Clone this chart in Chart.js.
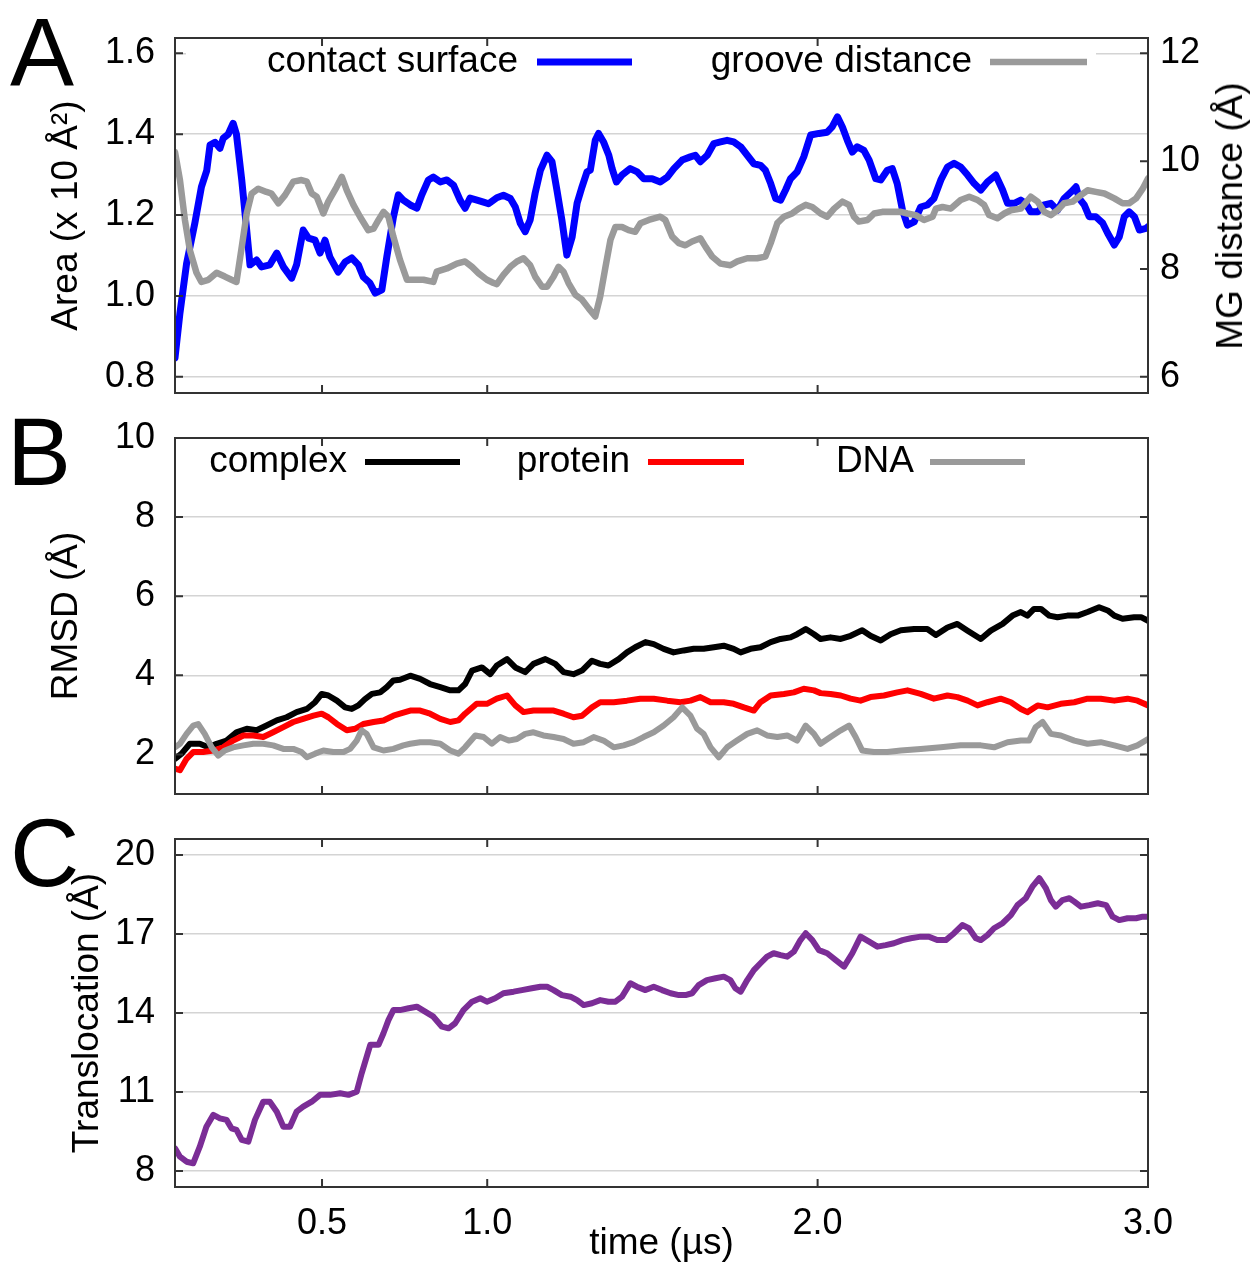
<!DOCTYPE html>
<html>
<head>
<meta charset="utf-8">
<script src="https://cdn.jsdelivr.net/npm/chart.js@4.4.0/dist/chart.umd.min.js"></script>
<style>
  html, body { margin: 0; padding: 0; background: #fff; }
  #wrap { position: relative; width: 1253px; height: 1262px; overflow: hidden;
          font-family: "Liberation Sans", Arial, sans-serif; }
  canvas { position: absolute; left: 0; }
  .letra { position: absolute; font-size: 96px; line-height: 1; color: #000; }
  #tituloDir { position: absolute; left: 1230px; top: 216px; font-size: 37px; white-space: nowrap;
               color: #000; transform: translate(-50%, -50%) rotate(-90deg); }
</style>
</head>
<body>
<div id="wrap">
  <canvas id="painelA" width="1253" height="400" style="top:0px"></canvas>
  <canvas id="painelB" width="1253" height="400" style="top:400px"></canvas>
  <canvas id="painelC" width="1253" height="462" style="top:800px"></canvas>
  <div class="letra" style="left:10px; top:4px">A</div>
  <div class="letra" style="left:7px; top:404px">B</div>
  <div class="letra" style="left:10px; top:805px">C</div>
  <div id="tituloDir">MG distance (Å)</div>
</div>
<script>
/* painel A: superfície de contato + distância do sulco; B: RMSD; C: translocação */

const COR_AZUL   = "#0000ff";
const COR_CINZA  = "#9a9a9a";
const COR_PRETO  = "#000000";
const COR_VERM   = "#ff0000";
const COR_ROXO   = "#7b2d96";
const COR_GRADE  = "#d4d4d4";
const FONTE      = "'Liberation Sans', Arial, sans-serif";

// eixo x (µs)
const xTicks = [0.5, 1.0, 2.0, 3.0];

// A — contact surface (x 10 Å², eixo esquerdo)
const contactT = [0.055,0.070,0.090,0.115,0.135,0.151,0.161,0.176,0.191,0.201,0.216,0.231,0.241,0.257,0.272,0.282,0.302,0.317,0.342,0.363,0.383,0.408,0.423,0.443,0.459,0.479,0.494,0.509,0.524,0.549,0.570,0.590,0.610,0.625,0.645,0.661,0.681,0.696,0.716,0.731,0.746,0.767,0.787,0.802,0.822,0.837,0.858,0.878,0.898,0.918,0.933,0.948,0.969,0.989,1.004,1.029,1.049,1.070,1.085,1.100,1.115,1.130,1.145,1.161,1.181,1.196,1.211,1.226,1.241,1.257,1.272,1.287,1.302,1.312,1.327,1.337,1.352,1.368,1.378,1.391,1.408,1.433,1.454,1.474,1.499,1.524,1.545,1.565,1.590,1.615,1.630,1.645,1.666,1.686,1.706,1.726,1.746,1.767,1.787,1.807,1.827,1.842,1.858,1.873,1.888,1.903,1.918,1.938,1.958,1.979,2.004,2.029,2.044,2.060,2.075,2.090,2.105,2.120,2.140,2.156,2.176,2.191,2.211,2.226,2.241,2.257,2.272,2.292,2.312,2.332,2.352,2.373,2.393,2.413,2.433,2.454,2.474,2.494,2.514,2.539,2.560,2.575,2.595,2.615,2.630,2.645,2.666,2.686,2.706,2.726,2.746,2.767,2.782,2.792,2.807,2.822,2.842,2.863,2.878,2.898,2.913,2.928,2.943,2.959,2.974,2.994,3.000];
const contactV = [0.847,0.958,1.080,1.180,1.270,1.310,1.373,1.380,1.365,1.390,1.400,1.427,1.400,1.287,1.163,1.077,1.089,1.072,1.077,1.106,1.072,1.044,1.077,1.163,1.143,1.138,1.106,1.138,1.096,1.059,1.084,1.094,1.077,1.047,1.032,1.007,1.015,1.096,1.195,1.250,1.237,1.225,1.217,1.250,1.287,1.294,1.282,1.287,1.274,1.237,1.217,1.242,1.237,1.232,1.228,1.243,1.249,1.241,1.220,1.180,1.159,1.188,1.254,1.311,1.348,1.332,1.262,1.188,1.101,1.146,1.229,1.270,1.307,1.311,1.385,1.402,1.381,1.348,1.315,1.282,1.299,1.315,1.307,1.290,1.290,1.282,1.294,1.315,1.336,1.344,1.348,1.332,1.348,1.377,1.381,1.385,1.381,1.369,1.348,1.327,1.323,1.311,1.278,1.241,1.237,1.262,1.290,1.307,1.344,1.398,1.402,1.405,1.418,1.443,1.418,1.385,1.356,1.369,1.360,1.336,1.290,1.287,1.311,1.315,1.278,1.212,1.175,1.183,1.220,1.225,1.241,1.287,1.319,1.328,1.319,1.299,1.278,1.262,1.282,1.299,1.262,1.229,1.229,1.237,1.229,1.208,1.208,1.225,1.229,1.212,1.241,1.257,1.270,1.241,1.225,1.196,1.196,1.180,1.155,1.126,1.146,1.196,1.208,1.196,1.163,1.167,1.171];

// A — groove distance (Å, eixo direito)
const grooveT = [0.055,0.070,0.085,0.100,0.120,0.135,0.156,0.181,0.206,0.226,0.241,0.257,0.272,0.287,0.307,0.332,0.347,0.368,0.388,0.413,0.438,0.454,0.469,0.484,0.504,0.519,0.544,0.560,0.575,0.595,0.615,0.640,0.656,0.671,0.686,0.701,0.716,0.736,0.757,0.777,0.807,0.837,0.847,0.878,0.908,0.933,0.954,0.974,0.999,1.019,1.029,1.049,1.070,1.090,1.110,1.130,1.145,1.166,1.181,1.201,1.216,1.231,1.246,1.267,1.287,1.307,1.327,1.342,1.358,1.373,1.388,1.408,1.428,1.448,1.464,1.489,1.524,1.539,1.560,1.580,1.600,1.620,1.645,1.661,1.681,1.706,1.736,1.757,1.787,1.817,1.842,1.858,1.878,1.898,1.923,1.943,1.964,1.984,2.009,2.029,2.050,2.075,2.095,2.110,2.125,2.151,2.171,2.196,2.226,2.252,2.272,2.297,2.322,2.348,2.358,2.378,2.403,2.433,2.459,2.484,2.504,2.519,2.544,2.565,2.585,2.615,2.645,2.666,2.686,2.706,2.726,2.746,2.772,2.797,2.817,2.842,2.868,2.898,2.923,2.943,2.964,2.984,3.000];
const grooveV = [10.17,9.65,8.91,8.35,7.93,7.76,7.80,7.93,7.86,7.80,7.76,8.41,9.03,9.40,9.49,9.43,9.40,9.22,9.37,9.62,9.65,9.62,9.40,9.34,9.03,9.25,9.52,9.71,9.46,9.19,8.97,8.72,8.75,8.91,9.06,8.97,8.60,8.17,7.80,7.80,7.80,7.76,7.95,8.01,8.10,8.14,8.04,7.92,7.80,7.74,7.72,7.89,8.04,8.14,8.20,8.07,7.86,7.67,7.67,7.86,8.04,7.95,7.74,7.52,7.43,7.27,7.12,7.49,8.04,8.54,8.78,8.78,8.72,8.69,8.85,8.91,8.97,8.91,8.60,8.48,8.44,8.51,8.57,8.41,8.23,8.10,8.07,8.14,8.20,8.20,8.23,8.48,8.85,8.97,9.03,9.12,9.19,9.15,9.03,8.97,9.12,9.25,9.19,8.97,8.88,8.91,9.03,9.06,9.06,9.06,9.03,9.00,8.91,8.97,9.12,9.15,9.12,9.28,9.34,9.28,9.19,9.00,8.94,9.03,9.09,9.12,9.34,9.25,9.06,9.00,9.09,9.22,9.25,9.37,9.46,9.43,9.40,9.31,9.22,9.22,9.31,9.49,9.68];

const areaTicks = [0.8, 1.0, 1.2, 1.4, 1.6];
const mgTicks   = [6, 8, 10, 12];

// B — RMSD (Å)
const complexT = [0.055,0.075,0.100,0.130,0.156,0.181,0.211,0.241,0.272,0.302,0.332,0.363,0.393,0.423,0.454,0.479,0.499,0.519,0.545,0.570,0.590,0.610,0.630,0.651,0.676,0.696,0.716,0.736,0.767,0.797,0.827,0.858,0.888,0.913,0.933,0.954,0.984,1.009,1.029,1.060,1.085,1.115,1.140,1.176,1.206,1.231,1.261,1.287,1.317,1.342,1.367,1.398,1.423,1.448,1.479,1.504,1.534,1.564,1.595,1.625,1.655,1.686,1.716,1.746,1.767,1.797,1.827,1.858,1.888,1.918,1.938,1.964,1.989,2.009,2.039,2.070,2.100,2.135,2.160,2.191,2.221,2.252,2.292,2.332,2.358,2.393,2.423,2.454,2.494,2.524,2.560,2.590,2.615,2.635,2.655,2.676,2.701,2.726,2.756,2.787,2.817,2.852,2.878,2.898,2.923,2.958,2.979,3.000];
const complexV = [1.89,2.02,2.27,2.27,2.18,2.27,2.35,2.56,2.65,2.61,2.73,2.86,2.94,3.07,3.15,3.32,3.53,3.49,3.36,3.19,3.15,3.24,3.40,3.53,3.57,3.70,3.87,3.89,3.99,3.91,3.78,3.70,3.62,3.62,3.78,4.12,4.20,4.03,4.25,4.41,4.20,4.08,4.29,4.41,4.29,4.08,4.03,4.12,4.37,4.29,4.25,4.41,4.58,4.71,4.84,4.79,4.67,4.58,4.63,4.67,4.67,4.71,4.75,4.67,4.58,4.67,4.71,4.84,4.92,4.96,5.04,5.17,5.04,4.92,4.96,4.92,5.00,5.14,5.00,4.88,5.04,5.14,5.17,5.17,5.02,5.21,5.30,5.13,4.92,5.13,5.30,5.51,5.60,5.51,5.68,5.68,5.51,5.47,5.51,5.51,5.60,5.72,5.64,5.51,5.43,5.47,5.47,5.38];

const proteinT = [0.055,0.070,0.090,0.110,0.140,0.171,0.201,0.231,0.262,0.292,0.322,0.352,0.383,0.413,0.443,0.474,0.499,0.519,0.545,0.575,0.600,0.625,0.656,0.686,0.716,0.736,0.767,0.797,0.827,0.858,0.888,0.913,0.933,0.968,0.999,1.029,1.060,1.085,1.110,1.140,1.170,1.201,1.231,1.261,1.287,1.317,1.342,1.383,1.423,1.463,1.504,1.545,1.585,1.615,1.645,1.676,1.716,1.746,1.777,1.807,1.827,1.858,1.898,1.928,1.958,1.989,2.009,2.039,2.070,2.100,2.130,2.160,2.201,2.241,2.272,2.312,2.352,2.393,2.423,2.454,2.484,2.514,2.554,2.585,2.615,2.635,2.666,2.696,2.736,2.777,2.817,2.857,2.898,2.938,2.968,3.000];
const proteinV = [1.64,1.60,1.89,2.06,2.06,2.10,2.18,2.35,2.48,2.48,2.44,2.56,2.69,2.82,2.90,2.98,3.03,2.94,2.77,2.61,2.65,2.77,2.82,2.86,2.98,3.03,3.11,3.11,3.03,2.90,2.82,2.86,3.03,3.28,3.28,3.41,3.49,3.24,3.07,3.11,3.11,3.11,3.03,2.94,2.98,3.19,3.32,3.32,3.36,3.41,3.41,3.36,3.32,3.36,3.45,3.32,3.32,3.28,3.19,3.11,3.32,3.49,3.53,3.57,3.66,3.62,3.55,3.53,3.49,3.41,3.36,3.45,3.49,3.57,3.62,3.53,3.41,3.49,3.45,3.36,3.24,3.32,3.41,3.32,3.15,3.07,3.24,3.19,3.28,3.32,3.41,3.41,3.36,3.41,3.36,3.24];

const dnaT = [0.055,0.070,0.090,0.110,0.125,0.145,0.166,0.186,0.206,0.231,0.262,0.292,0.322,0.352,0.383,0.413,0.438,0.454,0.479,0.504,0.534,0.565,0.585,0.605,0.620,0.635,0.656,0.686,0.716,0.746,0.767,0.797,0.827,0.858,0.888,0.913,0.933,0.964,0.989,1.014,1.039,1.065,1.090,1.115,1.140,1.170,1.201,1.231,1.261,1.292,1.322,1.352,1.383,1.413,1.443,1.473,1.504,1.534,1.564,1.590,1.615,1.635,1.655,1.676,1.701,1.726,1.756,1.787,1.817,1.847,1.878,1.908,1.938,1.964,1.989,2.009,2.039,2.070,2.095,2.115,2.135,2.170,2.211,2.252,2.312,2.373,2.433,2.494,2.534,2.575,2.615,2.640,2.660,2.681,2.706,2.736,2.777,2.817,2.857,2.898,2.938,2.968,3.000];
const dnaV = [2.18,2.27,2.52,2.73,2.77,2.52,2.18,1.97,2.10,2.18,2.23,2.27,2.27,2.23,2.14,2.14,2.06,1.93,2.02,2.10,2.06,2.06,2.14,2.35,2.61,2.52,2.18,2.10,2.14,2.23,2.27,2.31,2.31,2.27,2.10,2.02,2.18,2.48,2.44,2.27,2.44,2.35,2.39,2.52,2.56,2.48,2.44,2.39,2.27,2.31,2.44,2.35,2.18,2.23,2.31,2.44,2.56,2.73,2.94,3.19,2.98,2.65,2.52,2.18,1.93,2.18,2.35,2.52,2.61,2.48,2.44,2.48,2.35,2.73,2.52,2.27,2.44,2.61,2.73,2.44,2.10,2.06,2.06,2.10,2.14,2.18,2.23,2.23,2.18,2.31,2.35,2.35,2.69,2.82,2.52,2.48,2.35,2.27,2.31,2.23,2.14,2.23,2.39];

const rmsdTicks = [2, 4, 6, 8, 10];

// C — translocation (Å)
const transT = [0.055,0.070,0.090,0.110,0.130,0.150,0.171,0.191,0.211,0.226,0.241,0.257,0.277,0.297,0.322,0.342,0.363,0.383,0.403,0.423,0.443,0.469,0.494,0.524,0.555,0.580,0.605,0.620,0.646,0.671,0.686,0.701,0.716,0.736,0.762,0.787,0.812,0.837,0.863,0.883,0.903,0.928,0.954,0.979,0.999,1.024,1.049,1.080,1.105,1.135,1.161,1.181,1.201,1.226,1.252,1.272,1.292,1.317,1.342,1.367,1.388,1.408,1.433,1.453,1.479,1.504,1.529,1.555,1.580,1.600,1.620,1.640,1.665,1.691,1.716,1.736,1.751,1.767,1.787,1.807,1.827,1.847,1.867,1.888,1.908,1.928,1.948,1.964,1.984,2.004,2.029,2.055,2.080,2.105,2.130,2.156,2.181,2.206,2.231,2.257,2.282,2.312,2.337,2.362,2.388,2.413,2.438,2.458,2.479,2.494,2.514,2.534,2.560,2.585,2.605,2.630,2.650,2.671,2.691,2.706,2.721,2.741,2.762,2.777,2.797,2.822,2.848,2.873,2.893,2.913,2.938,2.964,2.984,3.000];
const transV = [8.86,8.54,8.35,8.29,8.92,9.68,10.13,10.00,9.94,9.62,9.56,9.18,9.11,9.94,10.63,10.63,10.25,9.68,9.68,10.25,10.44,10.63,10.89,10.89,10.95,10.89,11.01,11.71,12.79,12.79,13.23,13.73,14.11,14.11,14.18,14.24,14.05,13.86,13.48,13.42,13.61,14.11,14.43,14.56,14.43,14.56,14.75,14.81,14.87,14.94,15.00,15.00,14.87,14.68,14.62,14.49,14.30,14.37,14.49,14.43,14.43,14.62,15.13,15.00,14.87,15.00,14.87,14.75,14.68,14.68,14.75,15.06,15.25,15.32,15.38,15.25,14.94,14.81,15.25,15.63,15.89,16.14,16.27,16.20,16.14,16.33,16.77,17.03,16.77,16.39,16.27,16.01,15.76,16.27,16.90,16.71,16.52,16.58,16.65,16.77,16.84,16.90,16.90,16.77,16.77,17.03,17.34,17.22,16.84,16.77,16.96,17.22,17.41,17.72,18.10,18.36,18.80,19.12,18.74,18.29,18.04,18.29,18.36,18.23,18.04,18.10,18.17,18.10,17.66,17.53,17.60,17.60,17.66,17.66];

const transTicks = [8, 11, 14, 17, 20];

const pontos = (t, v) => t.map((x, i) => ({ x, y: v[i] }));

const TICK_FONT  = { family: FONTE, size: 36 };
const TITLE_FONT = { family: FONTE, size: 37 };

// sem folga automática dos rótulos: a área do gráfico fica onde o layout manda
const semFolga = s => { s.paddingTop = 0; s.paddingBottom = 0; s.paddingLeft = 0; s.paddingRight = 0; };

// moldura + marcas de escala para dentro (estilo gnuplot)
const molduraPlugin = {
  id: "moldura",
  afterDatasetsDraw(chart, args, opts) {
    const { ctx, chartArea: a, scales } = chart;
    const L = 8;
    ctx.save();
    ctx.strokeStyle = "#333";
    ctx.lineWidth = 2;
    ctx.beginPath();
    xTicks.forEach(v => {
      const px = scales.x.getPixelForValue(v);
      ctx.moveTo(px, a.bottom); ctx.lineTo(px, a.bottom - L);
      ctx.moveTo(px, a.top);    ctx.lineTo(px, a.top + L);
    });
    scales.y.ticks.forEach(t => {
      const py = scales.y.getPixelForValue(t.value);
      ctx.moveTo(a.left, py); ctx.lineTo(a.left + L, py);
      if (opts.espelho) { ctx.moveTo(a.right, py); ctx.lineTo(a.right - L, py); }
    });
    if (scales.y2) {
      scales.y2.ticks.forEach(t => {
        const py = scales.y2.getPixelForValue(t.value);
        ctx.moveTo(a.right, py); ctx.lineTo(a.right - L, py);
      });
    }
    ctx.stroke();
    ctx.strokeRect(a.left, a.top, a.width, a.height);
    ctx.restore();
  }
};

// legenda: texto à esquerda, amostra da linha à direita
const legendaPlugin = {
  id: "legenda",
  afterDatasetsDraw(chart, args, opts) {
    const ctx = chart.ctx;
    ctx.save();
    if (opts.caixa) {
      ctx.fillStyle = "#fff";
      ctx.fillRect(...opts.caixa);
    }
    ctx.font = "37px " + FONTE;
    ctx.textAlign = "right";
    ctx.textBaseline = "alphabetic";
    chart.data.datasets.forEach((ds, i) => {
      const s = opts.slots[i];
      ctx.fillStyle = "#000";
      ctx.fillText(ds.label, s[0], opts.base);
      ctx.strokeStyle = ds.borderColor;
      ctx.lineWidth = ds.borderWidth;
      ctx.beginPath();
      ctx.moveTo(s[1], opts.linhaY);
      ctx.lineTo(s[2], opts.linhaY);
      ctx.stroke();
    });
    ctx.restore();
  }
};

function eixoEsq(min, max, ticks, fmt, titulo, padTitulo) {
  return {
    position: "left", min, max,
    afterBuildTicks: s => { s.ticks = ticks.map(v => ({ value: v })); },
    afterFit: s => { s.width = 175; semFolga(s); },
    border: { display: false },
    grid: { drawTicks: false, color: COR_GRADE, lineWidth: 1.5 },
    ticks: { color: "#000", font: TICK_FONT, padding: 20, autoSkip: false, callback: fmt },
    title: { display: true, text: titulo, color: "#000", font: TITLE_FONT,
             padding: { top: padTitulo, bottom: 0 } }
  };
}

const eixoXOculto = { type: "linear", min: 0.055, max: 3.0, display: false };

const linha = (label, t, v, cor, w, extra) => Object.assign({
  label, data: pontos(t, v), borderColor: cor, backgroundColor: cor, borderWidth: w,
  pointRadius: 0, tension: 0, borderJoinStyle: "round", borderCapStyle: "round", fill: false
}, extra || {});

new Chart(document.getElementById("painelA"), {
  type: "line",
  data: {
    datasets: [
      linha("contact surface", contactT, contactV, COR_AZUL, 7, { yAxisID: "y", order: 1 }),
      linha("groove distance", grooveT, grooveV, COR_CINZA, 6.5, { yAxisID: "y2", order: 0 })
    ]
  },
  options: {
    responsive: false, animation: false, events: [],
    layout: { padding: { top: 38, bottom: 7, left: 0, right: 0 } },
    plugins: {
      legend: { display: false }, tooltip: { enabled: false },
      moldura: { espelho: false },
      legenda: { slots: [[518, 537, 632], [972, 990, 1087]], base: 72, linhaY: 62, caixa: [186, 40, 910, 38] }
    },
    scales: {
      x: eixoXOculto,
      y: eixoEsq(0.76, 1.638, areaTicks, v => v.toFixed(1), "Area (x 10 Å²)", 45),
      y2: {
        position: "right", min: 5.70, max: 12.285,
        afterBuildTicks: s => { s.ticks = mgTicks.map(v => ({ value: v })); },
        afterFit: s => { s.width = 105; semFolga(s); },
        border: { display: false },
        grid: { display: false, drawTicks: false },
        ticks: { color: "#000", font: TICK_FONT, padding: 12, autoSkip: false }
      }
    }
  },
  plugins: [legendaPlugin, molduraPlugin]
});

new Chart(document.getElementById("painelB"), {
  type: "line",
  data: {
    datasets: [
      linha("complex", complexT, complexV, COR_PRETO, 6, { order: 2 }),
      linha("protein", proteinT, proteinV, COR_VERM, 6, { order: 1 }),
      linha("DNA", dnaT, dnaV, COR_CINZA, 6, { order: 0 })
    ]
  },
  options: {
    responsive: false, animation: false, events: [],
    layout: { padding: { top: 38, bottom: 6, left: 0, right: 105 } },
    plugins: {
      legend: { display: false }, tooltip: { enabled: false },
      moldura: { espelho: true },
      legenda: { slots: [[347, 365, 460], [630, 648, 744], [914, 930, 1025]], base: 72, linhaY: 62 }
    },
    scales: {
      x: eixoXOculto,
      y: eixoEsq(1, 10, rmsdTicks, v => String(v), "RMSD (Å)", 45)
    }
  },
  plugins: [legendaPlugin, molduraPlugin]
});

new Chart(document.getElementById("painelC"), {
  type: "line",
  data: {
    datasets: [
      linha("translocation", transT, transV, COR_ROXO, 6)
    ]
  },
  options: {
    responsive: false, animation: false, events: [],
    layout: { padding: { top: 39, bottom: 0, left: 0, right: 105 } },
    plugins: {
      legend: { display: false }, tooltip: { enabled: false },
      moldura: { espelho: true }
    },
    scales: {
      x: {
        type: "linear", min: 0.055, max: 3.0,
        afterBuildTicks: s => { s.ticks = xTicks.map(v => ({ value: v })); },
        afterFit: s => { s.height = 75; semFolga(s); },
        border: { display: false },
        grid: { display: false, drawTicks: false },
        ticks: { color: "#000", font: TICK_FONT, padding: 15, maxRotation: 0, autoSkip: false,
                 callback: v => v.toFixed(1) },
        title: { display: true, text: "time (µs)", color: "#000",
                 font: { family: FONTE, size: 37, lineHeight: 1 }, padding: { top: 0, bottom: 0 } }
      },
      y: eixoEsq(7.39, 20.61, transTicks, v => String(v), "Translocation (Å)", 66)
    }
  },
  plugins: [molduraPlugin]
});
</script>
</body>
</html>
